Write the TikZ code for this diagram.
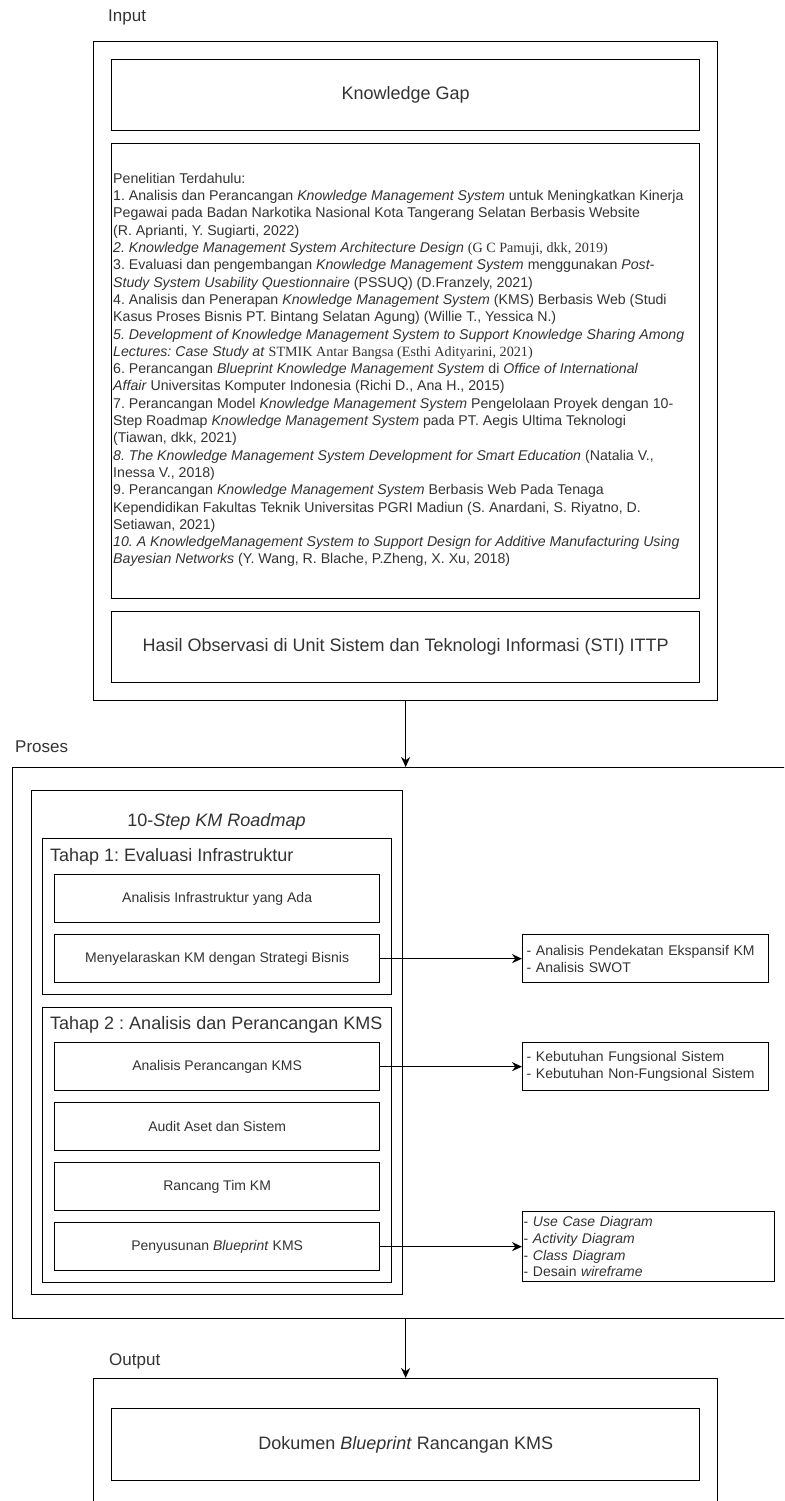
\documentclass[tikz,border=0pt]{standalone}
\usepackage{fontspec}
\setmainfont{Liberation Sans}
\newfontfamily\tnr{Liberation Serif}
\usetikzlibrary{arrows.meta}
\definecolor{txt}{HTML}{333333}
\frenchspacing
\begin{document}
\frenchspacing
\begin{tikzpicture}[x=1pt,y=-1pt,
  box/.style={draw=black, line width=1.3pt, fill=white, text=txt, inner sep=0pt, anchor=north west},
  big/.style={font=\fontsize{18}{21.6}\selectfont},
  small/.style={font=\fontsize{14}{16.8}\selectfont},
  lbl/.style={text=txt, inner sep=0pt, anchor=west, font=\fontsize{17}{20}\selectfont},
  arr/.style={-{Stealth[length=10pt,width=9pt]}, line width=1.3pt, draw=black}]
\clip (0,0) rectangle (784,1501);
\fill[white] (0,0) rectangle (784,1501);

% ---------- Input ----------
\node[lbl] (linput) at (108,17) {Input};
\node[box, minimum width=624pt, minimum height=659pt] (inbox) at (93,41) {};
\node[box, big, minimum width=588pt, minimum height=71pt] (kg) at (111,59) {Knowledge Gap};
\node[box, minimum width=588pt, minimum height=455pt] (pen) at (111,143) {};
\node[text=txt, align=left, anchor=west, inner sep=0pt, font=\fontsize{14.15}{17.3}\selectfont] (pentext) at (113,370) {%
Penelitian Terdahulu:\\
1. Analisis dan Perancangan \textit{Knowledge Management System} untuk Meningkatkan Kinerja\\
Pegawai pada Badan Narkotika Nasional Kota Tangerang Selatan Berbasis Website\\
(R. Aprianti, Y. Sugiarti, 2022)\\
\textit{2. Knowledge Management System Architecture Design} {\tnr(G C Pamuji, dkk, 2019)}\\
3. Evaluasi dan pengembangan \textit{Knowledge Management System} menggunakan \textit{Post-}\\
\textit{Study System Usability Questionnaire} (PSSUQ) (D.Franzely, 2021)\\
4. Analisis dan Penerapan \textit{Knowledge Management System} (KMS) Berbasis Web (Studi\\
Kasus Proses Bisnis PT. Bintang Selatan Agung) (Willie T., Yessica N.)\\
\textit{5. Development of Knowledge Management System to Support Knowledge Sharing Among}\\
\textit{Lectures: Case Study at} {\tnr STMIK Antar Bangsa (Esthi Adityarini, 2021)}\\
6. Perancangan \textit{Blueprint Knowledge Management System} di \textit{Office of International}\\
\textit{Affair} Universitas Komputer Indonesia (Richi D., Ana H., 2015)\\
7. Perancangan Model \textit{Knowledge Management System} Pengelolaan Proyek dengan 10-\\
Step Roadmap \textit{Knowledge Management System} pada PT. Aegis Ultima Teknologi\\
(Tiawan, dkk, 2021)\\
\textit{8. The Knowledge Management System Development for Smart Education} (Natalia V.,\\
Inessa V., 2018)\\
9. Perancangan \textit{Knowledge Management System} Berbasis Web Pada Tenaga\\
Kependidikan Fakultas Teknik Universitas PGRI Madiun (S. Anardani, S. Riyatno, D.\\
Setiawan, 2021)\\
\textit{10. A KnowledgeManagement System to Support Design for Additive Manufacturing Using}\\
\textit{Bayesian Networks} (Y. Wang, R. Blache, P.Zheng, X. Xu, 2018)};
\node[box, big, minimum width=588pt, minimum height=71pt] (hasil) at (111,611) {Hasil Observasi di Unit Sistem dan Teknologi Informasi (STI) ITTP};

% ---------- Proses ----------
\node[lbl] (lproses) at (15,747) {Proses};
\node[box, minimum width=778pt, minimum height=551pt] (proses) at (12,767) {};
\node[box, minimum width=371pt, minimum height=504pt] (step) at (31,790) {};
\node[big, text=txt, inner sep=0pt] (steptitle) at (216.5,822) {10-\textit{Step KM Roadmap}};
\node[box, minimum width=349pt, minimum height=156pt] (t1) at (42,838) {};
\node[big, text=txt, inner sep=0pt, anchor=west] (t1title) at (50,857) {Tahap 1: Evaluasi Infrastruktur};
\node[box, small, minimum width=325pt, minimum height=48pt] (anainfra) at (54,874) {Analisis Infrastruktur yang Ada};
\node[box, small, minimum width=325pt, minimum height=48pt] (menyel) at (54,934) {Menyelaraskan KM dengan Strategi Bisnis};
\node[box, minimum width=349pt, minimum height=275pt] (t2) at (42,1007) {};
\node[big, text=txt, inner sep=0pt, anchor=west] (t2title) at (50,1025) {Tahap 2 : Analisis dan Perancangan KMS};
\node[box, small, minimum width=325pt, minimum height=48pt] (anper) at (54,1042) {Analisis Perancangan KMS};
\node[box, small, minimum width=325pt, minimum height=48pt] (audit) at (54,1102) {Audit Aset dan Sistem};
\node[box, small, minimum width=325pt, minimum height=48pt] (tim) at (54,1162) {Rancang Tim KM};
\node[box, small, minimum width=325pt, minimum height=48pt] (penyus) at (54,1222) {Penyusunan \textit{Blueprint} KMS};

\node[box, small, minimum width=246pt, minimum height=48pt, align=left, text width=238pt, inner xsep=4pt] (rb1) at (522,934)
  {- Analisis Pendekatan Ekspansif KM\\- Analisis SWOT};
\node[box, small, minimum width=246pt, minimum height=48pt, align=left, text width=238pt, inner xsep=4pt] (rb2) at (522,1042)
  {- Kebutuhan Fungsional Sistem\\- Kebutuhan Non-Fungsional Sistem};
\node[box, small, minimum width=252pt, minimum height=70pt, align=left, text width=250pt, inner xsep=1pt] (rb3) at (522,1211)
  {- \textit{Use Case Diagram}\\- \textit{Activity Diagram}\\- \textit{Class Diagram}\\- Desain \textit{wireframe}};

% ---------- Output ----------
\node[lbl] (loutput) at (109,1361) {Output};
\node[box, minimum width=624pt, minimum height=150pt] (outbox) at (93,1378) {};
\node[box, big, minimum width=588pt, minimum height=72pt] (dok) at (111,1408) {Dokumen \textit{Blueprint} Rancangan KMS};

% ---------- Connectors ----------
\draw[arr] (inbox.south) -- (inbox.south |- proses.north);
\draw[arr] (outbox.north |- proses.south) -- (outbox.north);
\draw[arr] (menyel.east) -- (rb1.west);
\draw[arr] (anper.east) -- (rb2.west);
\draw[arr] (penyus.east) -- (rb3.west);
\end{tikzpicture}
\end{document}
